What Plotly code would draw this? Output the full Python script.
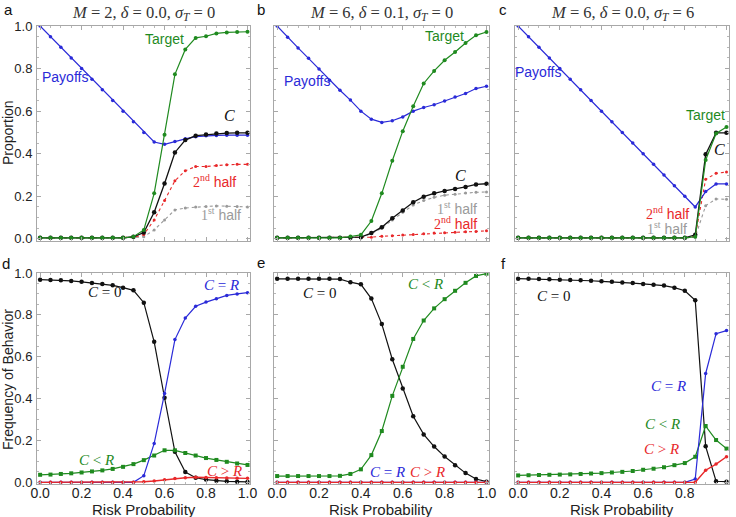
import plotly.graph_objects as go

risk = [round(i * 0.05, 2) for i in range(21)]

# ---- panel a : M=2, delta=0.0, sigma_T=0
a_payoffs = [1.0, 0.95, 0.9, 0.85, 0.8, 0.75, 0.7, 0.65, 0.6, 0.55, 0.5, 0.455, 0.444, 0.458,
             0.47, 0.48, 0.484, 0.486, 0.487, 0.487, 0.487]
a_target = [0.005] * 9 + [0.01, 0.042, 0.214, 0.489, 0.773, 0.89, 0.944, 0.952, 0.965, 0.97, 0.972, 0.973]
a_c = [0.005] * 9 + [0.01, 0.03, 0.125, 0.26, 0.406, 0.464, 0.485, 0.49, 0.495, 0.497, 0.498, 0.498]
a_2nd = [0.005] * 9 + [0.007, 0.02, 0.089, 0.18, 0.273, 0.32, 0.34, 0.34, 0.345, 0.348, 0.35, 0.35]
a_1st = [0.004] * 9 + [0.005, 0.01, 0.042, 0.089, 0.136, 0.145, 0.15, 0.152, 0.155, 0.153, 0.152, 0.15]

# ---- panel b : M=6, delta=0.1, sigma_T=0
b_payoffs = [1.0, 0.947, 0.897, 0.848, 0.798, 0.745, 0.698, 0.652, 0.60, 0.5625, 0.547, 0.555,
             0.573, 0.60, 0.617, 0.63, 0.648, 0.666, 0.683, 0.706, 0.717]
b_target = [0.005] * 7 + [0.011, 0.019, 0.084, 0.214, 0.367, 0.506, 0.623, 0.73, 0.789, 0.839,
                          0.878, 0.92, 0.956, 0.972]
b_c = [0.005] * 8 + [0.008, 0.027, 0.055, 0.097, 0.133, 0.172, 0.198, 0.214, 0.225, 0.234, 0.244,
                     0.256, 0.259]
b_1st = [0.004] * 8 + [0.007, 0.025, 0.05, 0.089, 0.125, 0.159, 0.18, 0.195, 0.205, 0.21, 0.215,
                       0.219, 0.22]
b_2nd = [0.005] * 8 + [0.007, 0.008, 0.012, 0.015, 0.018, 0.021, 0.024, 0.027, 0.029, 0.031, 0.033,
                       0.035, 0.038]

# ---- panel c : M=6, delta=0.0, sigma_T=6
c_payoffs = [1.0, 0.95, 0.9, 0.85, 0.8, 0.75, 0.7, 0.65, 0.6, 0.55, 0.5, 0.45, 0.4, 0.35, 0.3,
             0.25, 0.2, 0.15, 0.222, 0.258, 0.258]
c_target = [0.005] * 17 + [0.01, 0.37, 0.495, 0.525]
c_c = [0.005] * 17 + [0.019, 0.397, 0.498, 0.498]
c_2nd = [0.005] * 17 + [0.012, 0.28, 0.308, 0.314]
c_1st = [0.004] * 17 + [0.008, 0.156, 0.1875, 0.186]

# ---- panel d
d_c0 = [0.968, 0.967, 0.965, 0.962, 0.958, 0.952, 0.947, 0.941, 0.930, 0.917, 0.858, 0.671,
        0.404, 0.146, 0.049, 0.022, 0.013, 0.008, 0.005, 0.003, 0.002]
d_ceqr = [0.0] * 10 + [0.032, 0.186, 0.424, 0.682, 0.785, 0.841, 0.861, 0.877, 0.893, 0.90, 0.906]
d_cltr = [0.036, 0.037, 0.04, 0.043, 0.047, 0.052, 0.057, 0.064, 0.074, 0.087, 0.106, 0.128,
          0.153, 0.153, 0.14, 0.128, 0.116, 0.107, 0.098, 0.09, 0.083]
d_cgtr = [0.0] * 10 + [0.003, 0.006, 0.012, 0.018, 0.022, 0.024, 0.023, 0.022, 0.021, 0.02, 0.019]

# ---- panel e
e_c0 = [0.972, 0.972, 0.972, 0.972, 0.972, 0.972, 0.971, 0.956, 0.946, 0.878, 0.756, 0.588,
        0.448, 0.316, 0.229, 0.171, 0.123, 0.082, 0.044, 0.016, 0.003]
e_cltr = [0.03, 0.03, 0.03, 0.03, 0.03, 0.03, 0.031, 0.04, 0.062, 0.13, 0.245, 0.413, 0.552,
          0.685, 0.773, 0.831, 0.875, 0.915, 0.953, 0.986, 0.997]
e_ceqr = [0.0] * 21
e_cgtr = [0.0] * 21

# ---- panel f
f_c0 = [0.973, 0.972, 0.971, 0.970, 0.968, 0.967, 0.965, 0.963, 0.96, 0.958, 0.955, 0.952,
        0.948, 0.944, 0.94, 0.93, 0.915, 0.87, 0.172, 0.005, 0.003]
f_ceqr = [0.0] * 17 + [0.016, 0.52, 0.71, 0.725]
f_cltr = [0.033, 0.034, 0.035, 0.036, 0.037, 0.038, 0.04, 0.042, 0.044, 0.047, 0.05, 0.054,
          0.06, 0.065, 0.072, 0.082, 0.092, 0.122, 0.269, 0.202, 0.161]
f_cgtr = [0.0] * 18 + [0.058, 0.087, 0.122]

titles = ["<i>M</i> = 2, <i>δ</i> = 0.0, <i>σ<sub>T</sub></i> = 0",
          "<i>M</i> = 6, <i>δ</i> = 0.1, <i>σ<sub>T</sub></i> = 0",
          "<i>M</i> = 6, <i>δ</i> = 0.0, <i>σ<sub>T</sub></i> = 6"]
letters = ["a", "b", "c", "d", "e", "f"]
yticks = [0.0, 0.2, 0.4, 0.6, 0.8, 1.0]

BLUE = "#2a2ad8"
GREEN = "#1f8a1f"
BLACK = "#111111"
RED = "#e8282a"
GRAY = "#9a9a9a"
SANS = "Liberation Sans, Arial, sans-serif"
SERIF = "Liberation Serif, Times New Roman, serif"

W, H = 736, 517
cols_px = [(37, 250), (274, 489), (515, 729)]
rows_px = [(26, 241), (273, 484)]

fig = go.Figure()


def add(ax, y, color, size, dash="solid", width=1.2, symbol="circle"):
    fig.add_trace(go.Scatter(
        x=risk, y=y, mode="lines+markers", xaxis="x" + ax, yaxis="y" + ax,
        line=dict(color=color, width=width, dash=dash),
        marker=dict(color=color, size=size, symbol=symbol), showlegend=False,
        hoverinfo="skip"))


# top row
for ax, pay, tgt, cc, h2, h1 in [("", a_payoffs, a_target, a_c, a_2nd, a_1st),
                                 ("2", b_payoffs, b_target, b_c, b_2nd, b_1st),
                                 ("3", c_payoffs, c_target, c_c, c_2nd, c_1st)]:
    add(ax, h1, GRAY, 3, dash="dot", width=1.1)
    add(ax, h2, RED, 3, dash="dot", width=1.1)
    add(ax, pay, BLUE, 3.5)
    add(ax, cc, BLACK, 4.5, width=1.3)
    add(ax, tgt, GREEN, 4)

# bottom row
for ax, c0, ceq, clt, cgt in [("4", d_c0, d_ceqr, d_cltr, d_cgtr),
                              ("5", e_c0, e_ceqr, e_cltr, e_cgtr),
                              ("6", f_c0, f_ceqr, f_cltr, f_cgtr)]:
    add(ax, c0, BLACK, 4.5)
    add(ax, clt, GREEN, 4, symbol="square")
    add(ax, ceq, BLUE, 3.5)
    add(ax, cgt, RED, 3.5, width=1.4)

layout = dict(width=W, height=H, margin=dict(l=0, r=0, t=0, b=0, pad=0), autosize=False,
              paper_bgcolor="white", plot_bgcolor="white", showlegend=False,
              font=dict(family=SANS, size=14, color="#222222"))

for i in range(6):
    r, c = divmod(i, 3)
    n = "" if i == 0 else str(i + 1)
    x0, x1 = cols_px[c]
    y0, y1 = rows_px[r]
    axcommon = dict(showline=True, linecolor="#a8a8a8", linewidth=1, mirror="allticks",
                    ticks="inside", ticklen=4, tickcolor="#a8a8a8", showgrid=False,
                    zeroline=False, automargin=False,
                    minor=dict(ticks="inside", ticklen=2, tickcolor="#b8b8b8", dtick=0.05))
    layout["xaxis" + n] = dict(axcommon, domain=[x0 / W, x1 / W], range=[-0.015, 1.012],
                               tickvals=yticks, ticktext=[f"{v:.1f}" for v in yticks],
                               tickfont=dict(family=SANS, size=14, color="#222222"),
                               showticklabels=(r == 1), anchor="y" + n, ticklabelstandoff=-4)
    layout["yaxis" + n] = dict(axcommon, domain=[1 - y1 / H, 1 - y0 / H],
                               range=[-0.01, 1.0] if r == 0 else [-0.008, 1.0],
                               tickvals=yticks, ticktext=[f"{v:.1f}" for v in yticks],
                               tickfont=dict(family=SANS, size=13, color="#222222"),
                               showticklabels=(c == 0), anchor="x" + n, ticklabelstandoff=1)

fig.update_layout(**layout)

ann = []
# panel letters
for (lx, ly), t in zip([(8, 9), (261, 9), (503, 10), (6, 263), (261, 262), (503, 263)], letters):
    ann.append(dict(text=t, x=lx / W, y=1 - ly / H, xref="paper", yref="paper",
                    showarrow=False, font=dict(family=SANS, size=15, color="#111"),
                    xanchor="center", yanchor="middle"))
# titles
for c, t in enumerate(titles):
    x0, x1 = cols_px[c]
    ann.append(dict(text=t, x=(x0 + x1) / 2 / W, y=1 - 13 / H, xref="paper", yref="paper",
                    showarrow=False, font=dict(family=SERIF, size=16.5, color="#333"),
                    xanchor="center", yanchor="middle"))
# axis titles
ann.append(dict(text="Proportion", x=8 / W, y=1 - 133 / H, xref="paper", yref="paper",
                showarrow=False, textangle=-90, font=dict(family=SANS, size=14, color="#222"),
                xanchor="center", yanchor="middle"))
ann.append(dict(text="Frequency of Behavior", x=8 / W, y=1 - 380 / H, xref="paper",
                yref="paper", showarrow=False, textangle=-90,
                font=dict(family=SANS, size=14, color="#222"), xanchor="center", yanchor="middle"))
for c in range(3):
    x0, x1 = cols_px[c]
    ann.append(dict(text="Risk Probability", x=(x0 + x1) / 2 / W, y=1 - 509 / H, xref="paper",
                    yref="paper", showarrow=False,
                    font=dict(family=SANS, size=15, color="#222"),
                    xanchor="center", yanchor="middle"))


def lab(ax, x, y, text, color, serif=False, size=14):
    ann.append(dict(text=text, x=x, y=y, xref="x" + ax, yref="y" + ax, showarrow=False,
                    font=dict(family=SERIF if serif else SANS, size=size, color=color),
                    xanchor="center", yanchor="middle"))


nd = '<span style="font-family:Liberation Serif">2<sup>nd</sup></span> half'
st = '<span style="font-family:Liberation Serif">1<sup>st</sup></span> half'

lab("", 0.12, 0.76, "Payoffs", BLUE)
lab("", 0.60, 0.94, "Target", GREEN)
lab("", 0.915, 0.58, "<i>C</i>", BLACK, serif=True, size=16)
lab("", 0.84, 0.27, nd, RED)
lab("", 0.87, 0.115, st, GRAY)

lab("2", 0.143, 0.74, "Payoffs", BLUE)
lab("2", 0.80, 0.953, "Target", GREEN)
lab("2", 0.875, 0.296, "<i>C</i>", BLACK, serif=True, size=16)
lab("2", 0.86, 0.146, st, GRAY)
lab("2", 0.85, 0.075, nd, RED)

lab("3", 0.096, 0.784, "Payoffs", BLUE)
lab("3", 0.90, 0.582, "Target", GREEN)
lab("3", 0.965, 0.418, "<i>C</i>", BLACK, serif=True, size=16)
lab("3", 0.715, 0.122, nd, RED)
lab("3", 0.715, 0.052, st, GRAY)

lab("4", 0.31, 0.91, "<i>C</i> = 0", BLACK, serif=True, size=15)
lab("4", 0.875, 0.945, "<i>C</i> = <i>R</i>", BLUE, serif=True, size=15)
lab("4", 0.27, 0.106, "<i>C</i> &lt; <i>R</i>", GREEN, serif=True, size=15)
lab("4", 0.89, 0.054, "<i>C</i> &gt; <i>R</i>", RED, serif=True, size=15)

lab("5", 0.20, 0.905, "<i>C</i> = 0", BLACK, serif=True, size=15)
lab("5", 0.707, 0.947, "<i>C</i> &lt; <i>R</i>", GREEN, serif=True, size=15)
lab("5", 0.526, 0.05, "<i>C</i> = <i>R</i>", BLUE, serif=True, size=15)
lab("5", 0.717, 0.05, "<i>C</i> &gt; <i>R</i>", RED, serif=True, size=15)

lab("6", 0.168, 0.89, "<i>C</i> = 0", BLACK, serif=True, size=15)
lab("6", 0.72, 0.46, "<i>C</i> = <i>R</i>", BLUE, serif=True, size=15)
lab("6", 0.695, 0.28, "<i>C</i> &lt; <i>R</i>", GREEN, serif=True, size=15)
lab("6", 0.69, 0.158, "<i>C</i> &gt; <i>R</i>", RED, serif=True, size=15)

fig.update_layout(annotations=ann)
fig.write_html("out.html", config={"displayModeBar": False},
               post_script="document.body.style.margin='0';")
